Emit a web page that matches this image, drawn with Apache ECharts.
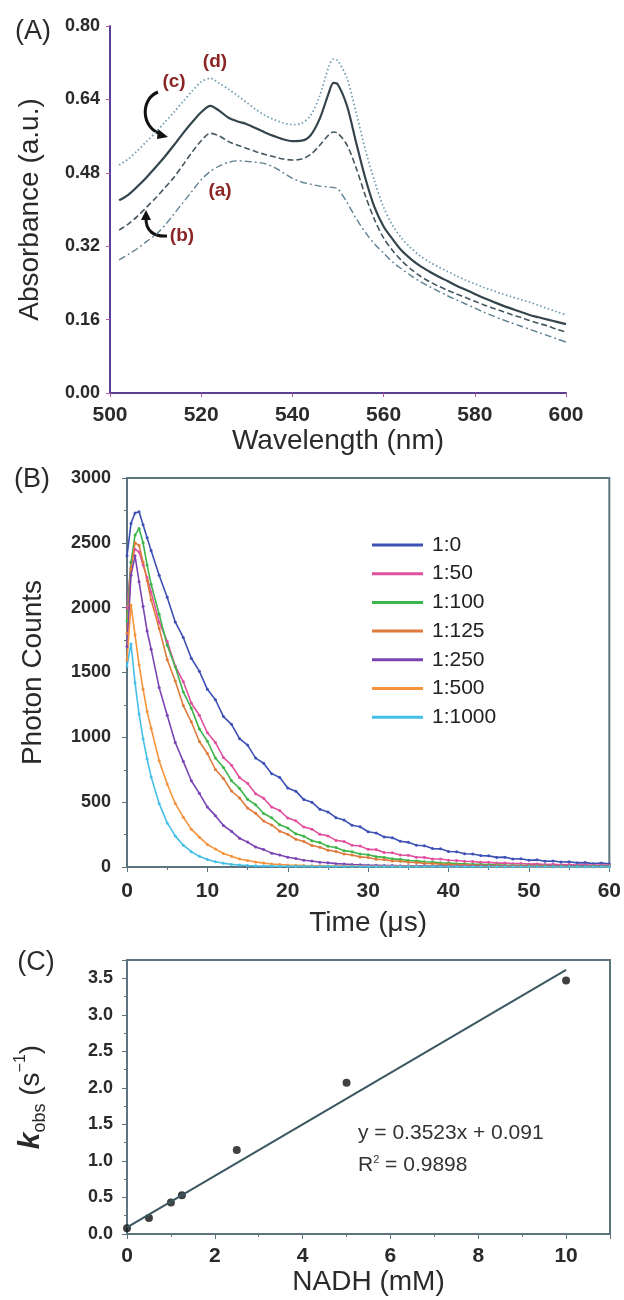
<!DOCTYPE html>
<html>
<head>
<meta charset="utf-8">
<script src="https://cdn.jsdelivr.net/npm/echarts@6/dist/echarts.min.js"></script>
<style>
html,body{margin:0;padding:0;background:#fff;}
#chart{width:624px;height:1300px;}
</style>
</head>
<body>
<div id="chart"></div>
<script>
// ---------- Panel A data ----------
const wavelength = [502,504,506,508,510,512,514,516,518,520,522,524,526,528,530,532,534,536,538,540,542,544,546,548,549,550,552,554,556,558,560,562,564,566,568,570,572,574,576,578,580,582,584,586,588,590,592,594,596,598,600];
const absA = [.29,.302,.315,.33,.345,.365,.39,.415,.44,.465,.483,.495,.503,.506,.505,.503,.5,.492,.48,.468,.46,.455,.451,.449,.448,.445,.415,.38,.35,.325,.305,.285,.27,.256,.243,.232,.222,.212,.203,.194,.185,.176,.168,.16,.153,.146,.139,.132,.125,.118,.111];
const absB = [.355,.368,.385,.405,.425,.447,.47,.497,.525,.55,.566,.56,.548,.54,.533,.526,.52,.515,.51,.508,.51,.52,.54,.563,.569,.566,.54,.49,.43,.378,.338,.31,.288,.27,.255,.243,.233,.224,.216,.208,.2,.192,.185,.178,.171,.165,.158,.152,.146,.139,.133];
const absC = [.42,.432,.45,.47,.492,.515,.54,.566,.59,.612,.626,.615,.6,.592,.586,.577,.568,.56,.553,.549,.55,.562,.598,.655,.676,.672,.625,.545,.468,.405,.363,.335,.31,.292,.277,.265,.254,.244,.234,.225,.216,.207,.199,.191,.184,.177,.17,.165,.16,.155,.15];
const absD = [.497,.51,.528,.548,.568,.59,.612,.635,.658,.678,.686,.675,.662,.648,.633,.618,.605,.596,.589,.585,.588,.605,.648,.712,.728,.724,.685,.61,.53,.462,.405,.365,.337,.316,.299,.286,.275,.265,.255,.246,.238,.23,.223,.216,.21,.204,.198,.191,.184,.177,.17];

// ---------- Panel B data ----------
const time = [0,0.5,1,1.5,2,2.5,3,4,5,6,7,8,9,10,11,12,13,14,15,16,17,18,19,20,21,22,23,24,25,26,27,28,29,30,31,32,33,34,35,36,37,38,39,40,41,42,43,44,45,46,47,48,49,50,51,52,53,54,55,56,57,58,59,60];
const ratioNames = ['1:0','1:50','1:100','1:125','1:250','1:500','1:1000'];
const counts_1_0 = [2400,2650,2730,2740,2640,2540, 2440,2250,2080,1890,1770,1610,1510,1370,1290,1160, 1100,990,940,840,800,720,690,610,585,520, 500,445,425,380,362,322,310,272,262,232, 225,198,190,168,164,142,140,120,118,102, 100,88,86,74,76,62,64,52,55,44, 46,38,40,32,34,26,30,24];
const counts_1_50 = [2000,2350,2450,2430,2330,2230, 2120,1890,1740,1550,1430,1265,1170,1035,960,845, 785,690,645,565,530,462,435,378,356,308, 292,252,240,205,197,168,162,136,134,112, 110,92,90,76,74,62,62,52,50,44, 42,36,36,30,31,26,27,22,24,19, 21,17,19,15,17,14,16,13];
const counts_1_100 = [1900,2350,2560,2610,2500,2330, 2180,1950,1710,1545,1350,1225,1065,970,840,768, 665,606,522,480,412,380,325,300,256,238, 202,188,160,150,126,118,100,94,80,74, 63,59,50,47,40,38,32,30,26,25, 21,20,17,17,14,14,12,12,10,11, 9,10,8,9,7,8,7,7];
const counts_1_125 = [1800,2300,2500,2480,2350,2210, 2060,1840,1600,1435,1245,1120,968,875,752,682, 586,532,455,414,354,324,276,252,214,197, 166,153,130,120,100,93,78,73,60,57, 47,45,37,35,28,27,22,21,17,17, 13,13,10,11,9,9,7,8,6,7, 5,6,5,5,4,5,4,4];
const counts_1_250 = [1700,2250,2400,2200,2010,1820, 1680,1385,1170,960,815,665,568,462,396,320, 275,222,192,154,134,107,93,75,65,52, 46,37,33,26,23,19,17,14,13,12, 11,10,10,9,9,8,9,8,8,7, 8,7,7,6,7,6,6,6,6,5, 6,5,5,5,5,4,5,4];
const counts_1_500 = [1600,2020,1790,1560,1370,1200, 1070,820,640,490,384,292,230,174,138,104, 83,62,50,38,30,23,19,15,13,11, 10,9,8,8,7,7,6,6,6,5, 6,5,5,5,4,5,4,4,4,4, 4,3,4,3,3,3,3,3,3,3, 2,3,2,2,2,2,2,2];
const counts_1_1000 = [1550,1720,1420,1180,990,835, 695,490,340,240,168,118,82,58,41,29, 20,15,11,9,8,7,6,6,5,5, 5,4,5,4,4,4,4,3,4,3, 3,3,3,3,3,3,3,2,3,2, 2,2,2,2,2,2,2,2,2,2, 2,1,2,1,1,1,1,1];
const ratioColors = ['#3d50b4','#e0509f','#3db54a','#df7a3c','#7b44b3','#f5923c','#45bfe6'];

// ---------- Panel C data ----------
const nadh = [0,0.5,1,1.25,2.5,5,10];
const kobs = [0.08,0.22,0.43,0.53,1.15,2.07,3.47];
const fitX = [0,10];
const fitY = [0.091,3.614];

const FONT = '"Liberation Sans", Arial, sans-serif';
const TXT = '#2a2a2a';

const chart = echarts.init(document.getElementById('chart'), null, {renderer:'canvas'});
const pairs = (xs, ys) => xs.map((x,i)=>[x, ys[i]]);
const countsList = [counts_1_0,counts_1_50,counts_1_100,counts_1_125,counts_1_250,counts_1_500,counts_1_1000];

const axisLabelY = {fontFamily:FONT, fontSize:18, color:TXT, fontWeight:'bold'};
const axisLabelX = {fontFamily:FONT, fontSize:21, color:TXT, fontWeight:'bold'};
const nameStyle = {fontFamily:FONT, fontSize:28, color:TXT};
const frameColor = '#5c747e';
const purple = '#5a3f92';

const option = {
  animation:false,
  backgroundColor:'#fff',
  grid:[
    {left:110, right:58, top:26, bottom:907, show:false},
    {left:127, right:14, top:478, bottom:433, show:true, borderColor:frameColor, borderWidth:2},
    {left:127, right:14, top:960, bottom:66, show:true, borderColor:frameColor, borderWidth:2}
  ],
  xAxis:[
    {gridIndex:0, type:'value', min:500, max:600, interval:20,
     axisLine:{lineStyle:{color:purple, width:2}}, axisTick:{length:4, lineStyle:{color:'#b05aa8'}},
     splitLine:{show:false}, axisLabel:Object.assign({margin:12, formatter:v=>String(v)}, axisLabelX),
     name:'Wavelength (nm)', nameLocation:'middle', nameGap:30, nameTextStyle:nameStyle},
    {gridIndex:1, type:'value', min:0, max:60, interval:10,
     axisLine:{lineStyle:{color:frameColor, width:2}}, axisTick:{length:5, lineStyle:{color:frameColor}},
     minorTick:{show:true, splitNumber:2, length:3, lineStyle:{color:frameColor}},
     splitLine:{show:false}, axisLabel:Object.assign({margin:14, formatter:v=>String(v)}, axisLabelX),
     name:'Time (\u03bcs)', nameLocation:'middle', nameGap:42, nameTextStyle:nameStyle},
    {gridIndex:2, type:'value', min:0, max:11, interval:2,
     axisLine:{lineStyle:{color:frameColor, width:2}}, axisTick:{length:5, lineStyle:{color:frameColor}},
     minorTick:{show:true, splitNumber:2, length:3, lineStyle:{color:frameColor}},
     splitLine:{show:false},
     axisLabel:Object.assign({margin:12, formatter:v=> (v%2===0 && v<=10) ? String(v) : ''}, axisLabelX),
     name:'NADH (mM)', nameLocation:'middle', nameGap:32, nameTextStyle:nameStyle}
  ],
  yAxis:[
    {gridIndex:0, type:'value', min:0, max:0.8, interval:0.16,
     axisLine:{show:true, lineStyle:{color:purple, width:2}}, axisTick:{show:true, length:4, lineStyle:{color:'#b05aa8'}},
     splitLine:{show:false},
     axisLabel:Object.assign({margin:10, formatter:v=>v.toFixed(2)}, axisLabelY),
     name:'Absorbance (a.u.)', nameLocation:'middle', nameGap:66, nameTextStyle:nameStyle},
    {gridIndex:1, type:'value', min:0, max:3000, interval:500,
     axisLine:{show:true, lineStyle:{color:frameColor, width:2}}, axisTick:{show:true, length:5, lineStyle:{color:frameColor}},
     minorTick:{show:true, splitNumber:2, length:3, lineStyle:{color:frameColor}},
     splitLine:{show:false}, axisLabel:Object.assign({margin:16, formatter:v=>String(Math.round(v))}, axisLabelY),
     name:'Photon Counts', nameLocation:'middle', nameGap:80, nameTextStyle:nameStyle},
    {gridIndex:2, type:'value', min:0, max:3.75, interval:0.5,
     axisLine:{show:true, lineStyle:{color:frameColor, width:2}}, axisTick:{show:true, length:5, lineStyle:{color:frameColor}},
     minorTick:{show:true, splitNumber:2, length:3, lineStyle:{color:frameColor}},
     splitLine:{show:false},
     axisLabel:Object.assign({margin:14, formatter:v=> (v<=3.5 && Math.abs(v*2-Math.round(v*2))<1e-6) ? v.toFixed(1) : ''}, axisLabelY),
     name:'{k|k}{sub|obs}{n| (s}{sup|\u22121}{n|)}', nameLocation:'middle', nameGap:78,
     nameTextStyle:{fontFamily:FONT, color:TXT, lineHeight:36,
       rich:{
         k:{fontFamily:FONT, fontSize:30, fontStyle:'italic', fontWeight:'bold', color:TXT, lineHeight:36, verticalAlign:'middle'},
         sub:{fontFamily:FONT, fontSize:18, color:TXT, verticalAlign:'bottom'},
         n:{fontFamily:FONT, fontSize:28, color:TXT, lineHeight:36, verticalAlign:'middle'},
         sup:{fontFamily:FONT, fontSize:16, color:TXT, verticalAlign:'top'}
       }}}
  ],
  legend:{
    data:ratioNames, orient:'vertical', left:367, top:529, icon:'rect',
    itemWidth:51, itemHeight:3, itemGap:6.7, selectedMode:false,
    textStyle:{fontFamily:FONT, fontSize:21, color:'#222', lineHeight:22, padding:[0,0,0,4]}
  },
  series:[
    {name:'(a)', type:'line', xAxisIndex:0, yAxisIndex:0, data:pairs(wavelength, absA), showSymbol:false, smooth:0.3,
     lineStyle:{color:'#5f8292', width:1.4, type:[7,3,2,3]}},
    {name:'(b)', type:'line', xAxisIndex:0, yAxisIndex:0, data:pairs(wavelength, absB), showSymbol:false, smooth:0.3,
     lineStyle:{color:'#44575f', width:1.6, type:[6,3]}},
    {name:'(c)', type:'line', xAxisIndex:0, yAxisIndex:0, data:pairs(wavelength, absC), showSymbol:false, smooth:0.3,
     lineStyle:{color:'#34454d', width:2.2, type:'solid'}},
    {name:'(d)', type:'line', xAxisIndex:0, yAxisIndex:0, data:pairs(wavelength, absD), showSymbol:false, smooth:0.3,
     lineStyle:{color:'#6f9db3', width:1.8, type:[1.5,2.5]}}
  ].concat(ratioNames.map((nm,i)=>({
    name:nm, type:'line', xAxisIndex:1, yAxisIndex:1, data:pairs(time, countsList[i]),
    color:ratioColors[i], showSymbol:true, symbol:'circle', symbolSize:3,
    lineStyle:{color:ratioColors[i], width:1.6}, itemStyle:{color:ratioColors[i]}
  }))).concat([
    {name:'fit', type:'line', xAxisIndex:2, yAxisIndex:2, data:pairs(fitX, fitY), showSymbol:false,
     lineStyle:{color:'#3b5860', width:2}},
    {name:'kobs', type:'scatter', xAxisIndex:2, yAxisIndex:2, data:pairs(nadh, kobs), symbolSize:8,
     itemStyle:{color:'#111'}}
  ]),
  graphic:[
    {type:'text', x:33, y:32, style:{text:'(A)', font:'27px '+FONT, fill:TXT, align:'center', verticalAlign:'middle'}},
    {type:'text', x:32, y:480, style:{text:'(B)', font:'27px '+FONT, fill:TXT, align:'center', verticalAlign:'middle'}},
    {type:'text', x:36, y:963, style:{text:'(C)', font:'27px '+FONT, fill:TXT, align:'center', verticalAlign:'middle'}},
    {type:'text', x:215, y:62, style:{text:'(d)', font:'bold 19px '+FONT, fill:'#8b2424', align:'center', verticalAlign:'middle'}},
    {type:'text', x:174, y:82, style:{text:'(c)', font:'bold 19px '+FONT, fill:'#8b2424', align:'center', verticalAlign:'middle'}},
    {type:'text', x:220, y:191, style:{text:'(a)', font:'bold 19px '+FONT, fill:'#8b2424', align:'center', verticalAlign:'middle'}},
    {type:'text', x:182, y:236, style:{text:'(b)', font:'bold 19px '+FONT, fill:'#8b2424', align:'center', verticalAlign:'middle'}},
    {type:'bezierCurve', shape:{x1:158, y1:92, cpx1:140, cpy1:99, cpx2:141, cpy2:128, x2:161, y2:134},
     style:{stroke:'#111', lineWidth:3, fill:null}},
    {type:'polygon', shape:{points:[[168,137],[158,129],[157,139]]}, style:{fill:'#111'}},
    {type:'bezierCurve', shape:{x1:167, y1:236, cpx1:153, cpy1:237, cpx2:146, cpy2:230, x2:146, y2:219},
     style:{stroke:'#111', lineWidth:3, fill:null}},
    {type:'polygon', shape:{points:[[146,210],[141,220],[151,220]]}, style:{fill:'#111'}},
    {type:'text', x:358, y:1133, style:{text:'y = 0.3523x + 0.091', font:'21px '+FONT, fill:'#333', align:'left', verticalAlign:'middle'}},
    {type:'text', x:358, y:1165, style:{text:'R{s|2} = 0.9898', font:'21px '+FONT, fill:'#333', align:'left', verticalAlign:'middle',
      rich:{s:{fontSize:11, fontFamily:FONT, verticalAlign:'top', fill:'#333'}}}}
  ]
};
chart.setOption(option);
</script>
</body>
</html>
